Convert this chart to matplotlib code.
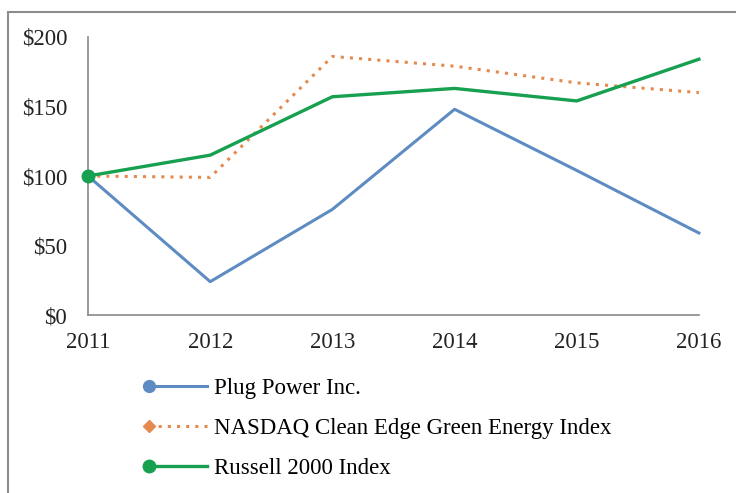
import matplotlib
matplotlib.use("Agg")
import matplotlib.pyplot as plt
from matplotlib.lines import Line2D
from matplotlib.patches import Rectangle
from matplotlib.legend_handler import HandlerLine2D
from matplotlib.ticker import FuncFormatter

years = ["2011", "2012", "2013", "2014", "2015", "2016"]
plug_power = [100, 24, 76, 148, 104, 59]
nasdaq_clean_edge = [100, 99, 186, 179, 167, 160]
russell_2000 = [100, 115, 157, 163, 154, 184]
labels = ["Plug Power Inc.", "NASDAQ Clean Edge Green Energy Index",
          "Russell 2000 Index"]

plt.rcParams["font.family"] = ["Liberation Serif", "DejaVu Serif"]

FS = 16.5


class LeftMarker(HandlerLine2D):
    """凡例のマーカーを線の左端に置く（Excel 風）。"""
    def create_artists(self, legend, orig_handle, xdescent, ydescent,
                       width, height, fontsize, trans):
        y = height / 2 - ydescent
        x0, x1 = -xdescent, -xdescent + width
        line = Line2D([x0, x1], [y, y])
        self.update_prop(line, orig_handle, legend)
        line.set_marker("None")
        mark = Line2D([x0], [y])
        self.update_prop(mark, orig_handle, legend)
        mark.set_linestyle("None")
        mark.set_markevery(None)
        line.set_transform(trans)
        mark.set_transform(trans)
        return [line, mark]


fig = plt.figure(figsize=(7.36, 4.93), dpi=100)
ax = fig.add_axes([0.1196, 0.361, 0.830, 0.564])

x = range(len(years))
l1, = ax.plot(x, plug_power, color="#5E8CC2", lw=2.2, marker="o",
              markevery=[0], ms=8.5)
l2, = ax.plot(x, nasdaq_clean_edge, color="#E58A4E", lw=2.2, ls=(0, (1, 2)),
              marker="D", markevery=[0], ms=6)
l3, = ax.plot(x, russell_2000, color="#17A050", lw=2.4, marker="o",
              markevery=[0], ms=9, zorder=5)
for ln in (l1, l2, l3):
    ln.set_clip_on(False)

ax.set_xlim(0, len(years) - 1)
ax.set_ylim(0, 200)
ax.set_xticks(list(x))
ax.set_xticklabels(years)
ax.set_yticks([0, 50, 100, 150, 200])
ax.yaxis.set_major_formatter(FuncFormatter(lambda v, _: f"${v:.0f}"))
ax.tick_params(length=0, labelsize=FS, colors="#222222")
ax.tick_params(axis="x", pad=12)
ax.tick_params(axis="y", pad=15)
for s in ("top", "right"):
    ax.spines[s].set_visible(False)
for s in ("left", "bottom"):
    ax.spines[s].set_color("#8A8A8A")
    ax.spines[s].set_linewidth(1.2)

fig.legend([l1, l2, l3], labels, loc="upper left",
           bbox_to_anchor=(0.2025, 0.234), frameon=False, fontsize=FS,
           handlelength=2.53, handletextpad=0.3, labelspacing=0.84,
           borderaxespad=0, borderpad=0,
           handler_map={l: LeftMarker() for l in (l1, l2, l3)})

fig.add_artist(Rectangle((8 / 736, -0.1), 1.2, 0.9757 + 0.1,
                         transform=fig.transFigure, fill=False,
                         edgecolor="#8C8C8C", lw=1.5))

fig.savefig("out.png", dpi=100)
